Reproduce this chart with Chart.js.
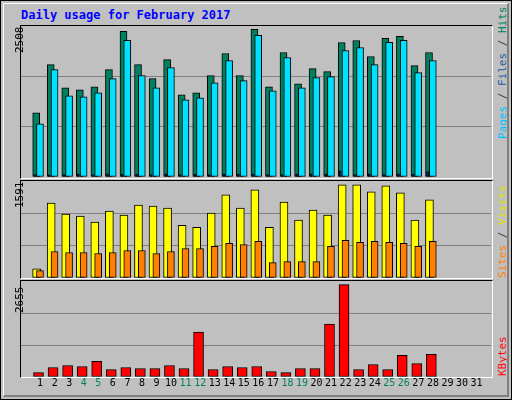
<!DOCTYPE html>
<html>
<head>
<meta charset="utf-8">
<script src="https://cdn.jsdelivr.net/npm/chart.js@4"></script>
<style>
  body { margin: 0; background: #fff; }
  #frame { position: absolute; left: 0; top: 0; width: 510px; height: 398px; border: 1px solid #000; background: #C0C0C0; }
  #frame:after { content: ''; position: absolute; left: 2px; top: 2px; right: 2px; bottom: 2px; border-top: 1px solid #fff; border-left: 1px solid #fff; border-right: 2px solid #808080; border-bottom: 2px solid #808080; }
  .title { position: absolute; left: 20px; top: 7px; font: bold 12px "DejaVu Sans Mono", monospace; color: #0000FF; }
  .panel { position: absolute; left: 19px; width: 471px; border-top: 1px solid #000; border-left: 1px solid #000; border-right: 1px solid #fff; border-bottom: 1px solid #fff; }
  canvas { position: absolute; }
  .rot { position: absolute; transform-origin: 0 0; transform: rotate(-90deg); font: 11px "DejaVu Sans Mono", monospace; white-space: nowrap; }
</style>
</head>
<body>
<div id="frame">
  <div class="title">Daily usage for February 2017</div>
  <div class="panel" style="top:24px;height:152px"></div>
  <div class="panel" style="top:179px;height:97px"></div>
  <div class="panel" style="top:279px;height:96px"></div>
  <canvas id="c1" style="left:20px;top:25px" width="470" height="151"></canvas>
  <canvas id="c2" style="left:20px;top:180px" width="470" height="97"></canvas>
  <canvas id="c3" style="left:20px;top:280px" width="470" height="112"></canvas>
  <div class="rot" style="left:12px;top:52px">2508</div>
  <div class="rot" style="left:12px;top:207px">1591</div>
  <div class="rot" style="left:12px;top:312px">2655</div>
  <div class="rot" style="left:495px;top:138px"><span style="color:#00C0FF">Pages</span><span style="color:#404040"> / </span><span style="color:#2060A0">Files</span><span style="color:#404040"> / </span><span style="color:#008060">Hits</span></div>
  <div class="rot" style="left:495px;top:277px"><span style="color:#FF8000">Sites</span><span style="color:#404040"> / </span><span style="color:#E0E000">Visits</span></div>
  <div class="rot" style="left:495px;top:375px"><span style="color:#FF0000">KBytes</span></div>
</div>
<script>
const days = [];
for (let d = 1; d <= 31; d++) days.push(d);
const weekend = [4, 5, 11, 12, 18, 19, 25, 26];

const hits = [1087, 1905, 1513, 1479, 1530, 1820, 2468, 1905, 1666, 1990, 1393, 1427, 1717, 2093,
  1717, 2502, 1530, 2110, 1581, 1837, 1786, 2280, 2314, 2042, 2349, 2383, 1888, 2110];
const files = [899, 1820, 1377, 1360, 1428, 1667, 2315, 1718, 1513, 1854, 1308, 1342, 1598, 1974,
  1633, 2400, 1462, 2025, 1513, 1684, 1701, 2144, 2195, 1905, 2281, 2315, 1769, 1974];
const pages = [40, 35, 40, 50, 40, 55, 50, 50, 40, 55, 40, 50, 40, 55,
  50, 50, 40, 40, 55, 55, 50, 105, 40, 55, 40, 55, 50, 90];
const visits = [159, 1284, 1093, 1059, 955, 1145, 1076, 1249, 1232, 1197, 903, 868, 1111, 1422,
  1197, 1509, 868, 1301, 990, 1163, 1076, 1595, 1595, 1474, 1578, 1457, 990, 1336];
const sites = [125, 453, 436, 436, 419, 436, 471, 471, 419, 453, 505, 505, 540, 592,
  574, 626, 263, 280, 280, 280, 540, 644, 609, 626, 609, 592, 540, 626];
const kbytes = [128, 273, 331, 302, 447, 215, 273, 244, 244, 331, 244, 1290, 215, 302,
  273, 302, 157, 128, 244, 244, 1522, 2655, 215, 360, 215, 622, 389, 651];

const xMin = 0.347, xMax = 31.61;

function pts(arr, shift) {
  return arr.map((v, i) => ({ x: days[i] + shift, y: v }));
}

function bars(label, arr, shift, color, thick, order) {
  return {
    label, data: pts(arr, shift), backgroundColor: color, borderColor: '#000',
    borderWidth: 1, borderSkipped: false, barThickness: thick, grouped: false, order
  };
}

function yScale(max) {
  return {
    min: 0, max: max,
    ticks: { display: false, stepSize: max / 3 },
    border: { display: false },
    grid: {
      tickLength: 0, lineWidth: 1,
      color: c => (c.index === 1 || c.index === 2) ? '#808080' : 'rgba(0,0,0,0)'
    },
    afterFit: s => { s.width = 0; }
  };
}

function makeChart(id, datasets, yMax, showX) {
  new Chart(document.getElementById(id), {
    type: 'bar',
    data: { datasets },
    options: {
      responsive: false, animation: false, devicePixelRatio: 1,
      layout: { padding: 0 },
      plugins: { legend: { display: false }, tooltip: { enabled: false } },
      scales: {
        x: {
          type: 'linear', min: xMin, max: xMax, display: showX,
          grid: { display: false, tickLength: 0 }, border: { display: false },
          afterBuildTicks: s => { s.ticks = days.map(d => ({ value: d + 0.14 })); },
          afterFit: s => { s.height = showX ? 16 : 0; },
          ticks: {
            padding: 0, autoSkip: false, maxRotation: 0,
            font: { family: "'DejaVu Sans Mono', monospace", size: 10 },
            color: c => weekend.includes(days[c.index]) ? '#008060' : '#000',
            callback: (v, i) => String(days[i])
          }
        },
        y: yScale(yMax)
      }
    }
  });
}

makeChart('c1', [
  bars('Pages', pages, -0.23, '#0000FF', 2, 0),
  bars('Files', files, 0.13, '#00E0FF', 7, 1),
  bars('Hits', hits, -0.13, '#008060', 7, 2)
], 2559, false);

makeChart('c2', [
  bars('Sites', sites, 0.13, '#FF8000', 7, 0),
  bars('Visits', visits, -0.1, '#FFFF00', 8, 1)
], 1660, false);

makeChart('c3', [
  bars('KBytes', kbytes, 0.03, '#FF0000', 10, 0)
], 2760, true);
</script>
</body>
</html>
